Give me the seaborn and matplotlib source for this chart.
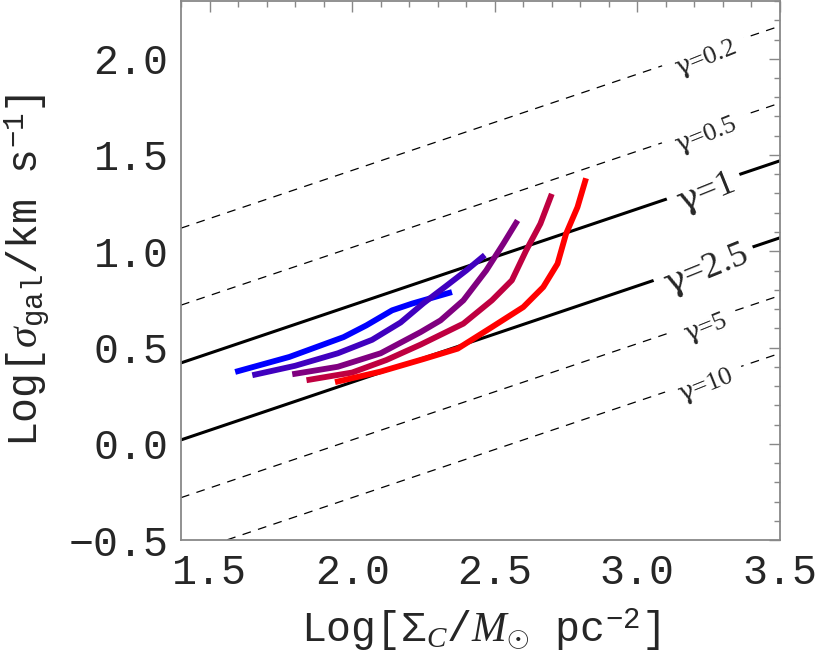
import numpy as np
import pandas as pd
import matplotlib
matplotlib.use('Agg')
import matplotlib.pyplot as plt
from matplotlib.ticker import MultipleLocator
import seaborn as sns

# model curves, blue -> red
blue_x = [1.59, 1.78, 1.97, 2.05, 2.14, 2.21, 2.35]
blue_y = [0.373, 0.451, 0.554, 0.615, 0.693, 0.728, 0.788]
indigo_x = [1.65, 1.80, 1.95, 2.07, 2.17, 2.25, 2.33, 2.40, 2.465]
indigo_y = [0.356, 0.405, 0.47, 0.54, 0.63, 0.73, 0.82, 0.90, 0.98]
purple_x = [1.79, 1.95, 2.10, 2.24, 2.31, 2.39, 2.47, 2.53, 2.58]
purple_y = [0.361, 0.40, 0.47, 0.58, 0.641, 0.745, 0.90, 1.039, 1.16]
crimson_x = [1.84, 2.00, 2.12, 2.24, 2.39, 2.49, 2.56, 2.61, 2.66, 2.70]
crimson_y = [0.330, 0.37, 0.435, 0.515, 0.624, 0.745, 0.849, 1.004, 1.143, 1.298]
red_x = [1.94, 2.10, 2.25, 2.37, 2.49, 2.60, 2.67, 2.72, 2.75, 2.79, 2.82]
red_y = [0.32, 0.375, 0.44, 0.494, 0.606, 0.710, 0.814, 0.935, 1.091, 1.229, 1.379]
curve_colors = ['#0000FF', '#4000BF', '#800080', '#BF0040', '#FF0000']

# gamma reference lines: value at left (x=1.4) and right (x=3.5) edges
gamma_labels = ['0.2', '0.5', '1', '2.5', '5', '10']
gamma_left = [1.12, 0.72, 0.42, 0.02, -0.28, -0.58]
gamma_right = [2.17, 1.77, 1.47, 1.07, 0.77, 0.47]
gamma_solid = [False, False, True, True, False, False]

x_ticks = [1.5, 2.0, 2.5, 3.0, 3.5]
y_ticks = [-0.5, 0.0, 0.5, 1.0, 1.5, 2.0]

sns.set_style('white')
plt.rcParams['font.family'] = ['Liberation Mono', 'DejaVu Sans']
plt.rcParams['mathtext.fontset'] = 'custom'
plt.rcParams['mathtext.rm'] = 'Liberation Mono'
plt.rcParams['mathtext.it'] = 'Liberation Serif:italic'
plt.rcParams['mathtext.sf'] = 'DejaVu Serif'

curves = [(blue_x, blue_y), (indigo_x, indigo_y), (purple_x, purple_y),
          (crimson_x, crimson_y), (red_x, red_y)]
rows = []
for i, (cx, cy) in enumerate(curves):
    for a, b in zip(cx, cy):
        rows.append({'curve': i, 'x': a, 'y': b})
df = pd.DataFrame(rows)

fig = plt.figure(figsize=(8.18, 6.54), dpi=100)
ax = fig.add_axes([181/818, 114/654, 599/818, 539/654])

xl = [1.4, 3.5]
for lab, yl, yr, solid in zip(gamma_labels, gamma_left, gamma_right, gamma_solid):
    if solid:
        ax.plot(xl, [yl, yr], color='black', lw=2.2, zorder=2)
    else:
        ax.plot(xl, [yl, yr], color='black', lw=0.9, ls=(0, (7, 6)), zorder=2)
    # label sits in a gap of the line
    tx = 3.24
    ty = yl + (yr - yl) * (tx - xl[0]) / (xl[1] - xl[0]) - 0.04
    ax.text(tx, ty, r'$\mathsf{\gamma}$=' + lab,
            family='Liberation Serif', fontsize=26 if solid else 19,
            rotation=22, ha='center', va='center', zorder=4,
            bbox=dict(facecolor='white', edgecolor='none', pad=6 if solid else 8))

sns.lineplot(data=df, x='x', y='y', hue='curve', palette=curve_colors,
             sort=False, estimator=None, lw=4.2, legend=False, ax=ax,
             solid_capstyle='butt', zorder=3)

ax.set_xlim(1.4, 3.5)
ax.set_ylim(-0.5, 2.3)
ax.set_xticks(x_ticks)
ax.set_yticks(y_ticks)
ax.set_xticklabels([f'{v:.1f}' for v in x_ticks])
ax.set_yticklabels([f'{v:.1f}'.replace('-', '\u2212') for v in y_ticks])
ax.xaxis.set_minor_locator(MultipleLocator(0.1))
ax.yaxis.set_minor_locator(MultipleLocator(0.1))
ax.tick_params(which='both', direction='in', top=True, right=True,
               color='#888888', width=1.0, labelsize=30, pad=9)
ax.tick_params(which='major', length=8)
ax.tick_params(which='minor', length=4.5)
for s in ax.spines.values():
    s.set_color('#888888')
    s.set_linewidth(1.3)

ax.set_xlabel(r'Log[$\Sigma_{C}$/$M_{\odot}$ pc$^{-2}$]', fontsize=30, labelpad=10)
ax.set_ylabel(r'Log[$\sigma_{\rm gal}$/km s$^{-1}$]', fontsize=30, labelpad=12)

fig.savefig('out.png', dpi=100)
